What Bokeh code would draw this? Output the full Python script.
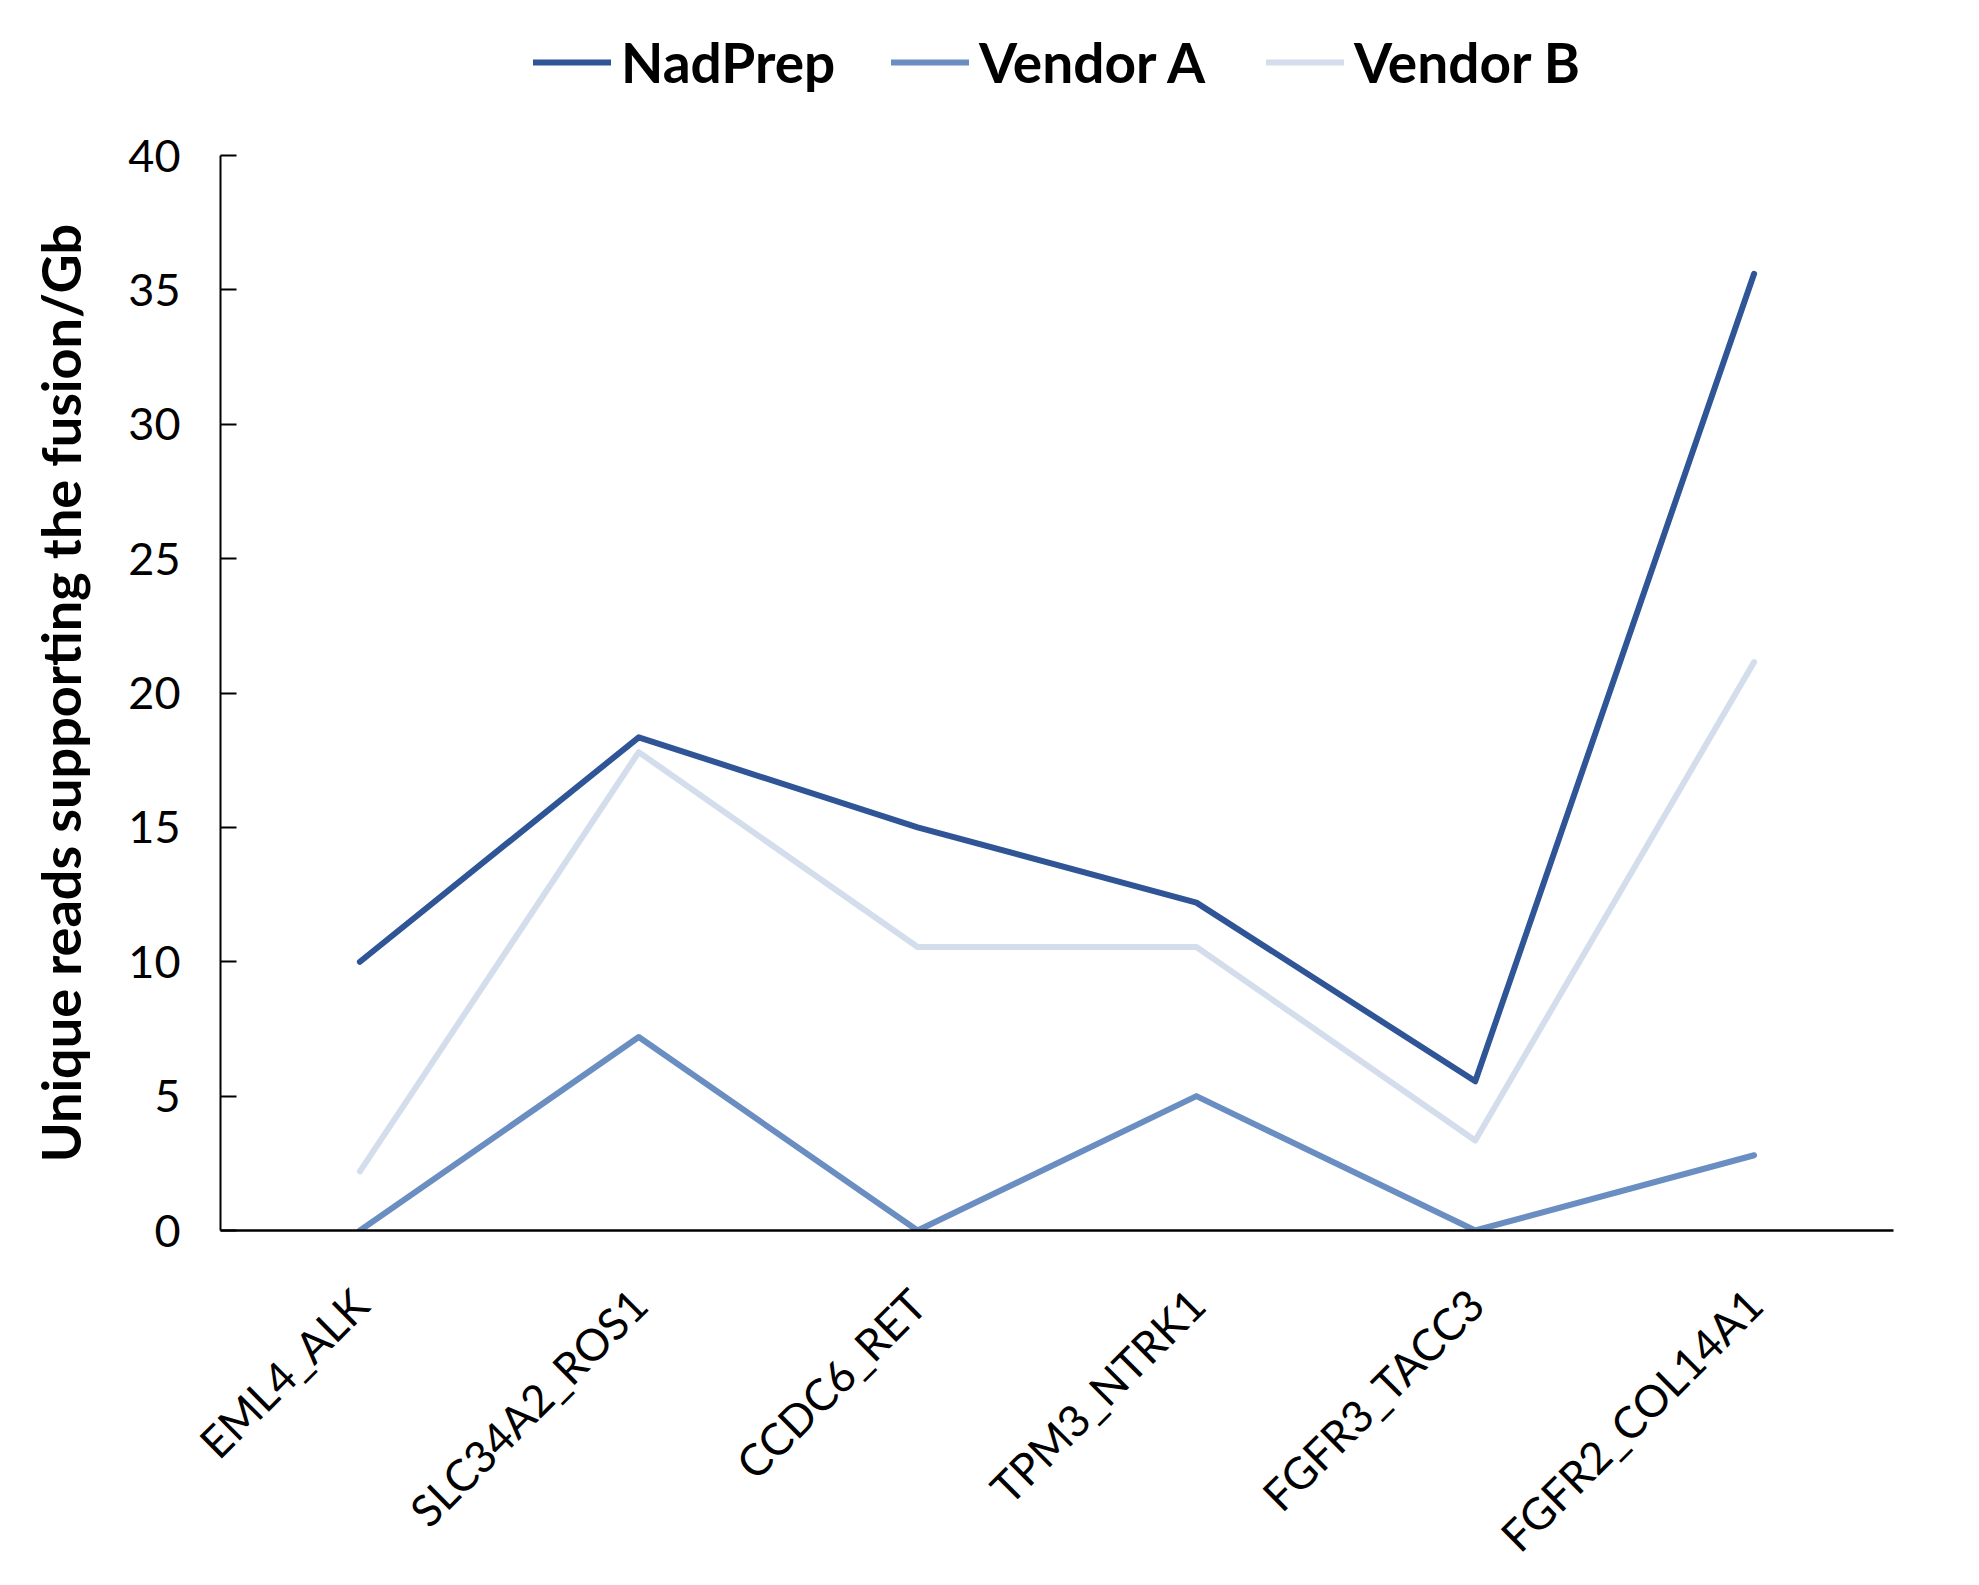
from bokeh.plotting import figure
from bokeh.models import FactorRange, Range1d, FixedTicker, Legend, LegendItem, ColumnDataSource
from bokeh.layouts import column
from bokeh.embed import file_html
from bokeh.resources import INLINE
import math

categories = ["EML4_ALK", "SLC34A2_ROS1", "CCDC6_RET", "TPM3_NTRK1", "FGFR3_TACC3", "FGFR2_COL14A1"]
nadprep = [10.0, 18.35, 15.0, 12.2, 5.55, 35.6]
vendor_a = [0.0, 7.2, 0.0, 5.0, 0.0, 2.8]
vendor_b = [2.2, 17.8, 10.55, 10.55, 3.35, 21.15]
y_ticks = [0, 5, 10, 15, 20, 25, 30, 35, 40]

series_names = ["NadPrep", "Vendor A", "Vendor B"]
series_colors = ["#2F5597", "#6A8EC2", "#D3DDEC"]

FONT = "Lato"
LINE_W = 6

# ---------- main chart ----------
p = figure(frame_width=1673, frame_height=1075,
           x_range=FactorRange(*categories), y_range=Range1d(0, 40),
           output_backend="svg", toolbar_location=None,
           min_border_left=220, min_border_right=67, min_border_top=40, min_border_bottom=10)
p.outline_line_color = None
p.xgrid.grid_line_color = None
p.ygrid.grid_line_color = None

src = ColumnDataSource(dict(cat=categories, nad=nadprep, va=vendor_a, vb=vendor_b))
for col, color in [("vb", series_colors[2]), ("va", series_colors[1]), ("nad", series_colors[0])]:
    p.line(x="cat", y=col, source=src, line_color=color, line_width=LINE_W,
           line_cap="round", line_join="round")

ya = p.yaxis[0]
ya.ticker = FixedTicker(ticks=y_ticks)
ya.major_tick_in = 16
ya.major_tick_out = 0
ya.minor_tick_in = 0
ya.minor_tick_out = 0
ya.axis_line_color = "black"
ya.axis_line_width = 2
ya.major_tick_line_color = "black"
ya.major_tick_line_width = 2
ya.major_label_text_font = FONT
ya.major_label_text_font_size = "45px"
ya.major_label_text_color = "black"
ya.major_label_standoff = 40
ya.axis_label = "Unique reads supporting the fusion/Gb"
ya.axis_label_text_font = FONT
ya.axis_label_text_font_style = "bold"
ya.axis_label_text_font_size = "54px"
ya.axis_label_text_color = "black"
ya.axis_label_standoff = 32

xa = p.xaxis[0]
xa.major_tick_in = 0
xa.major_tick_out = 0
xa.minor_tick_in = 0
xa.minor_tick_out = 0
xa.axis_line_color = "black"
xa.axis_line_width = 2.5
xa.major_label_orientation = math.pi / 4
xa.major_label_text_font = FONT
xa.major_label_text_font_size = "44px"
xa.major_label_text_color = "black"
xa.major_label_standoff = 66

# ---------- legend strip above the chart ----------
LG_H = 155 - 40
lg_fig = figure(width=1960, height=LG_H, x_range=Range1d(0, 1), y_range=Range1d(0, 1),
                x_axis_type=None, y_axis_type=None, output_backend="svg",
                toolbar_location=None, min_border=0)
lg_fig.outline_line_color = None
lg_fig.xgrid.grid_line_color = None
lg_fig.ygrid.grid_line_color = None

# legend offsets measured from the chart frame's left edge (frames are aligned)
legend_x = [313, 671, 1046]
for name, color, lx in zip(series_names, series_colors, legend_x):
    r = lg_fig.line(x=[-2, -1], y=[-2, -1], line_color=color, line_width=LINE_W,
                    line_cap="round")
    lg = Legend(items=[LegendItem(label=name, renderers=[r])],
                location=(lx, LG_H - 95), orientation="horizontal",
                glyph_width=78, glyph_height=30, label_standoff=10,
                padding=0, margin=0, spacing=0,
                border_line_color=None, background_fill_alpha=0,
                label_text_font=FONT, label_text_font_style="bold",
                label_text_font_size="55px", label_text_color="black")
    lg_fig.add_layout(lg, "center")

layout = column(lg_fig, p, spacing=0)
open("out.html", "w").write(file_html(layout, INLINE))
